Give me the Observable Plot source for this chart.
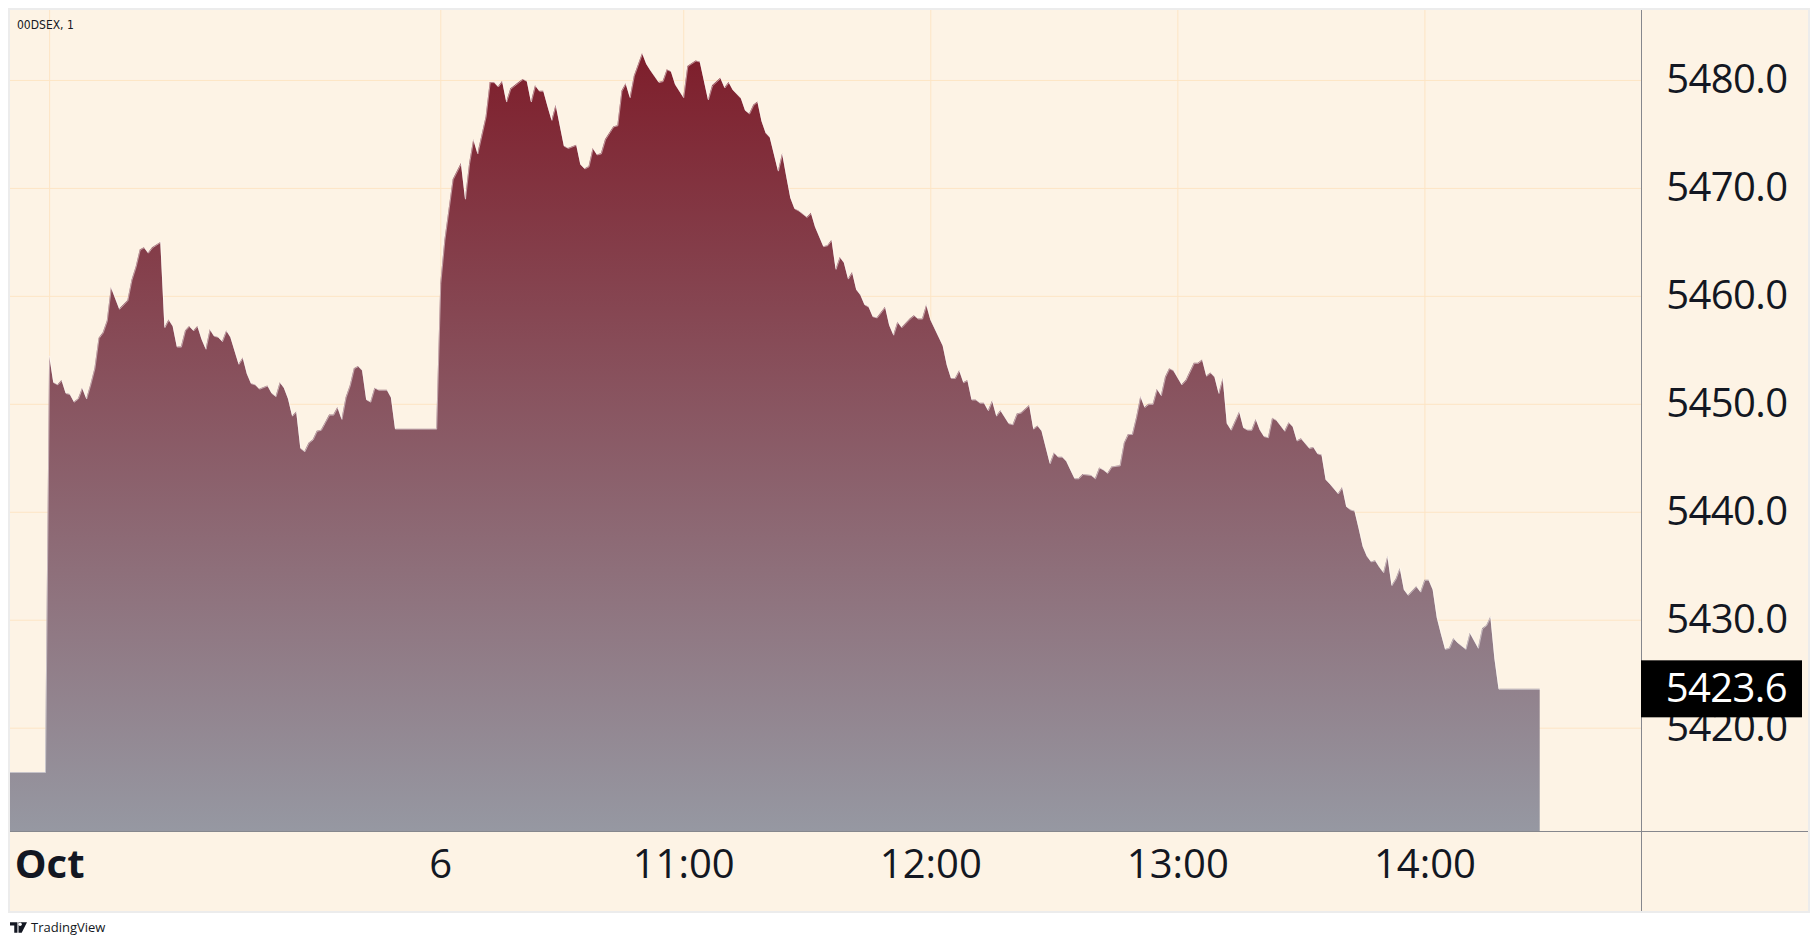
<!DOCTYPE html>
<html>
<head>
<meta charset="utf-8">
<script src="https://cdn.jsdelivr.net/npm/d3@7"></script>
<script src="https://cdn.jsdelivr.net/npm/@observablehq/plot@0.6"></script>
<style>
  html, body { margin: 0; padding: 0; background: #ffffff; }
  #wrap { position: absolute; left: 10px; top: 10px; width: 1798px; height: 901px;
          background: #fdf3e5; outline: 2px solid #ececec; }
  #title { position: absolute; left: 7px; top: 8px; font: 12px/14px "DejaVu Sans Condensed", "DejaVu Sans", sans-serif;
           color: #131722; white-space: nowrap; }
  #logo { position: absolute; left: 10px; top: 920px; font: 13px/15px "Open Sans", "Liberation Sans", sans-serif;
          color: #131722; display: flex; align-items: center; gap: 4px; }
  .ylab text { letter-spacing: -0.6px; }
</style>
</head>
<body>
<div id="wrap"><div id="chart"></div><div id="title">00DSEX, 1</div></div>
<div id="logo"><svg width="17" height="11" viewBox="0 0 16 10"><path d="M0 0h7v10H4V3H0z M8 0h8l-5 10H8z" fill="#131722"/><circle cx="9.5" cy="2" r="1.6" fill="#fff"/></svg><span>TradingView</span></div>
<script>
// ---- data: 1-minute bar index (0 = Oct 6 10:00) and index level ----
const barIdx = [
  -104,-95,-94,-93,-92,-91,-90,-89,-88,-87,-86,-85,-84,-83,-82,-81,-80,-79,-77,-76,-75,-74,-73,-72,-71,-70,-69,-67,
  -66,-65,-64,-63,-62,-61,-60,-59,-58,-57,-56,-55,-54,-53,-52,-51,-50,-48,-47,-46,-45,-44,-43,-41,-40,-39,-38,-37,
  -36,-35,-34,-33,-32,-31,-30,-29,-28,-27,-26,-25,-24,-23,-22,-21,-20,-19,-18,-17,-16,-15,-14,-12,-11,-10,0,
  1,2,4,6,7,8,9,10,12,13,14,15,16,17,18,20,21,22,23,24,25,26,27,28,29,31,32,34,35,36,37,38,39,40,41,43,44,45,46,47,48,
  50,51,52,54,55,56,57,58,60,61,63,64,66,67,69,70,71,72,74,75,76,77,78,79,80,81,83,84,85,86,87,88,90,91,92,94,95,96,
  97,98,99,100,101,102,103,104,105,106,107,109,110,111,112,113,115,116,117,118,119,120,123,124,125,126,127,128,129,
  130,131,132,133,134,135,136,137,139,140,141,142,144,145,146,147,149,150,151,152,153,154,155,156,157,159,160,161,
  162,163,164,166,167,168,169,170,171,172,173,174,175,176,177,178,179,181,182,184,185,186,187,188,189,190,191,192,
  193,195,196,197,198,199,200,201,202,203,204,206,207,208,209,210,212,213,214,215,216,217,219,220,221,222,223,224,
  225,226,227,228,229,230,231,232,233,234,235,236,238,239,240,241,242,243,244,245,246,247,248,250,251,252,253,254,
  255,256,257,258,268
];
const price = [
  5415.9,5415.9,5454.5,5452.0,5451.8,5452.2,5451.0,5450.9,5450.2,5450.5,5451.5,5450.5,5451.8,5453.3,5456.1,5456.6,5457.7,5460.8,5458.8,5459.2,5459.6,5461.5,5462.7,5464.3,5464.5,5464.0,5464.5,5465.0,
  5457.1,5457.8,5457.2,5455.3,5455.3,5456.8,5457.2,5456.8,5457.2,5456.0,5455.1,5456.9,5456.3,5456.2,5455.8,5456.8,5456.2,5453.7,5454.3,5452.8,5451.9,5451.8,5451.4,5451.7,5451.0,5450.7,5452.0,5451.5,
  5450.5,5448.9,5449.3,5445.9,5445.6,5446.4,5446.7,5447.5,5447.6,5448.3,5449.0,5449.0,5449.7,5448.6,5450.6,5451.7,5453.3,5453.5,5453.1,5450.4,5450.2,5451.5,5451.3,5451.3,5450.6,5447.7,5447.7,
  5461.2,5465.2,5470.8,5472.3,5469.0,5472.3,5474.5,5473.2,5476.6,5479.8,5479.8,5479.4,5479.9,5478.0,5479.2,5479.8,5480.1,5479.9,5478.0,5479.5,5479.0,5479.0,5477.6,5476.3,5477.7,5473.9,5473.7,5474.0,5472.2,5471.8,5472.0,5473.7,5473.1,5473.2,5474.5,5475.7,5475.8,5479.0,5479.7,5478.4,5480.4,
  5482.5,5481.5,5480.9,5479.8,5479.9,5481.0,5480.8,5479.6,5478.4,5481.3,5481.8,5481.7,5478.2,5479.5,5480.2,5479.3,5479.8,5479.1,5478.3,5477.2,5476.9,5477.7,5478.0,5476.2,5475.1,5474.7,5471.6,5473.2,5471.1,5469.1,5468.1,5467.9,5467.3,5467.7,5466.4,5464.6,5464.7,5465.2,
  5462.5,5463.6,5463.1,5461.6,5462.2,5460.6,5460.1,5459.2,5459.0,5458.1,5458.0,5459.0,5457.3,5456.4,5457.6,5457.1,5457.9,5458.2,5457.9,5457.9,5459.2,5457.8,5455.4,5453.6,5452.4,5452.4,5453.1,5452.0,5452.2,
  5450.4,5450.4,5450.1,5450.1,5449.4,5450.3,5448.9,5449.4,5448.2,5448.1,5449.1,5449.2,5449.9,5447.7,5448.0,5447.5,5444.5,5445.5,5445.1,5445.1,5444.7,5443.9,5443.1,5443.1,5443.5,5443.4,5443.1,5444.1,
  5443.9,5443.6,5444.2,5444.3,5446.4,5447.2,5447.2,5448.8,5450.7,5449.7,5450.0,5450.0,5451.4,5450.8,5452.5,5453.3,5453.1,5451.8,5452.2,5453.8,5453.8,5454.1,5452.6,5452.9,5452.5,5451.0,5452.4,5448.2,
  5447.6,5449.3,5447.8,5447.6,5447.6,5448.6,5447.6,5447.0,5446.9,5448.7,5448.5,5447.5,5448.3,5447.9,5446.6,5446.8,5445.9,5446.0,5445.4,5445.3,5443.0,5442.6,5441.7,5442.3,5440.5,5440.2,5440.1,5438.5,
  5436.8,5435.9,5435.4,5435.5,5434.9,5434.4,5435.9,5433.2,5433.8,5434.8,5432.8,5432.3,5433.1,5432.6,5433.7,5433.7,5432.8,5430.2,5428.7,5427.3,5427.4,5428.3,5427.9,5427.3,5428.8,5428.1,5427.4,5429.2,
  5429.5,5430.3,5426.4,5423.6,5423.6
];
const yTicks = [5420, 5430, 5440, 5450, 5460, 5470, 5480];
const xTickIdx = [-94, 1, 60, 120, 180, 240];
const xTickLbl = ["Oct", "6", "11:00", "12:00", "13:00", "14:00"];
const xDomain = [-103.5, 292.6];
const yDomain = [5410.43, 5486.48];

const data = barIdx.map((t, i) => ({t, v: price[i]}));
const last = data[data.length - 1];

const W = 1798, H = 901, MR = 167, MB = 80;
const FONT = "'Open Sans', 'Liberation Sans', sans-serif";
const lbl = d => xTickLbl[xTickIdx.indexOf(d)];

const plot = Plot.plot({
  width: W, height: H,
  marginLeft: 0, marginTop: 0, marginRight: MR, marginBottom: MB,
  style: {background: "transparent", fontFamily: FONT, fontSize: "40px", color: "#131722", overflow: "visible"},
  x: {type: "linear", domain: xDomain, axis: null},
  y: {domain: yDomain, axis: null},
  marks: [
    Plot.gridY(yTicks, {stroke: "#fde5c5", strokeOpacity: 1}),
    Plot.gridX(xTickIdx, {stroke: "#fde5c5", strokeOpacity: 1}),
    Plot.areaY(data, {x: "t", y1: yDomain[0], y2: "v", fill: "url(#areaGrad)", curve: "linear", clip: true}),
    Plot.lineY(data, {x: "t", y: "v", stroke: "#ffffff", strokeOpacity: 0.5, strokeWidth: 1, clip: true}),
    Plot.axisY(yTicks, {anchor: "right", tickSize: 0, tickPadding: 0, textAnchor: "end", dx: 146,
                        tickFormat: d => d.toFixed(1), label: null, className: "ylab"}),
    Plot.axisX([xTickIdx[0]], {anchor: "bottom", tickSize: 0, tickPadding: 18, tickFormat: lbl, fontWeight: "bold", label: null}),
    Plot.axisX(xTickIdx.slice(1), {anchor: "bottom", tickSize: 0, tickPadding: 18, tickFormat: lbl, label: null})
  ]
});

const svg = d3.select(plot);
const grad = svg.insert("defs", ":first-child").append("linearGradient")
  .attr("id", "areaGrad").attr("x1", 0).attr("y1", 0).attr("x2", 0).attr("y2", 1);
grad.append("stop").attr("offset", "0%").attr("stop-color", "#7e1e2b");
grad.append("stop").attr("offset", "100%").attr("stop-color", "#9698a2");

// pane separators
svg.append("line").attr("x1", W - MR + 0.5).attr("x2", W - MR + 0.5).attr("y1", 0).attr("y2", H)
  .attr("stroke", "#86878d").attr("stroke-width", 1);
svg.append("line").attr("x1", 0).attr("x2", W).attr("y1", H - MB + 0.5).attr("y2", H - MB + 0.5)
  .attr("stroke", "#86878d").attr("stroke-width", 1);

// last-price label (box overlaps the 5420.0 tick as in the original)
const yy = plot.scale("y").apply(last.v);
svg.append("rect").attr("x", W - MR).attr("y", yy - 28.5).attr("width", 161).attr("height", 57).attr("fill", "#000");
svg.append("text").attr("x", W - MR + 146).attr("y", yy).attr("dy", "0.34em").attr("text-anchor", "end")
  .attr("fill", "#fff").attr("font-family", FONT).attr("font-size", 40).attr("letter-spacing", "-0.6px")
  .text(last.v.toFixed(1));

document.getElementById("chart").appendChild(plot);
</script>
</body>
</html>
